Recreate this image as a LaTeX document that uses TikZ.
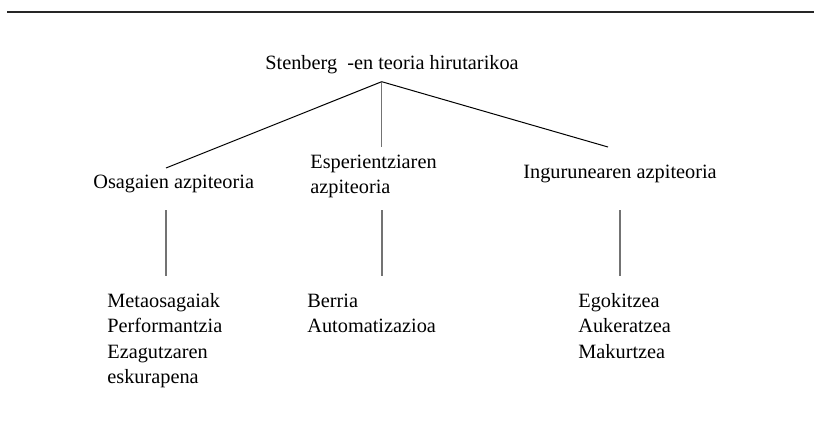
\documentclass[tikz,border=0pt]{standalone}
\usepackage{fontspec}
\setmainfont{Liberation Serif}
\usetikzlibrary{positioning}

\tikzset{
  theory/.style={inner sep=0pt, anchor=base west, font=\fontsize{10.15pt}{12.75pt}\selectfont},
  branch/.style={line width=0.5pt},
  stem/.style={line width=0.6pt, draw=black!55},
}

\begin{document}
\begin{tikzpicture}[x=0.5pt,y=-0.5pt]
    \useasboundingbox (0,0) rectangle (814,423);
    % Rule across the top
    \draw[line width=0.6pt, black!85] (7,12) -- (814,12);

    % Main theory and its subtheories
    \node[theory] (root) at (265,69) {Stenberg\ \ -en teoria hirutarikoa};
    \node[theory] (osagai) at (93,188) {Osagaien azpiteoria};
    \node[theory] (esper) at (310,168) {
        \begin{tabular}[t]{@{}l@{}}
            Esperientziaren\\
            azpiteoria
        \end{tabular}
    };
    \node[theory] (ingur) at (523,178) {Ingurunearen azpiteoria};

    % What each subtheory holds
    \node[theory] (meta) at (107,307) {
        \begin{tabular}[t]{@{}l@{}}
            Metaosagaiak\\
            Performantzia\\
            Ezagutzaren\\
            eskurapena
        \end{tabular}
    };
    \node[theory] (berria) at (307,307) {
        \begin{tabular}[t]{@{}l@{}}
            Berria\\
            Automatizazioa
        \end{tabular}
    };
    \node[theory] (egoki) at (578,307) {
        \begin{tabular}[t]{@{}l@{}}
            Egokitzea\\
            Aukeratzea\\
            Makurtzea
        \end{tabular}
    };

    % Connections
    \coordinate (apex) at (381.7,81.7);
    \coordinate (osagai top) at (166,168);
    \coordinate (esper top) at (381.7,146.7);
    \coordinate (ingur top) at (608,147);
    \draw[branch] (apex) -- (osagai top);
    \draw[stem, line width=0.75pt] (apex) -- (esper top);
    \draw[branch] (apex) -- (ingur top);

    \coordinate (meta stem) at (166,210);
    \coordinate (berria stem) at (382,210);
    \coordinate (egoki stem) at (620,210);
    \draw[stem] (meta stem) -- ++(0,66);
    \draw[stem] (berria stem) -- ++(0,66);
    \draw[stem] (egoki stem) -- ++(0,66);
\end{tikzpicture}
\end{document}
